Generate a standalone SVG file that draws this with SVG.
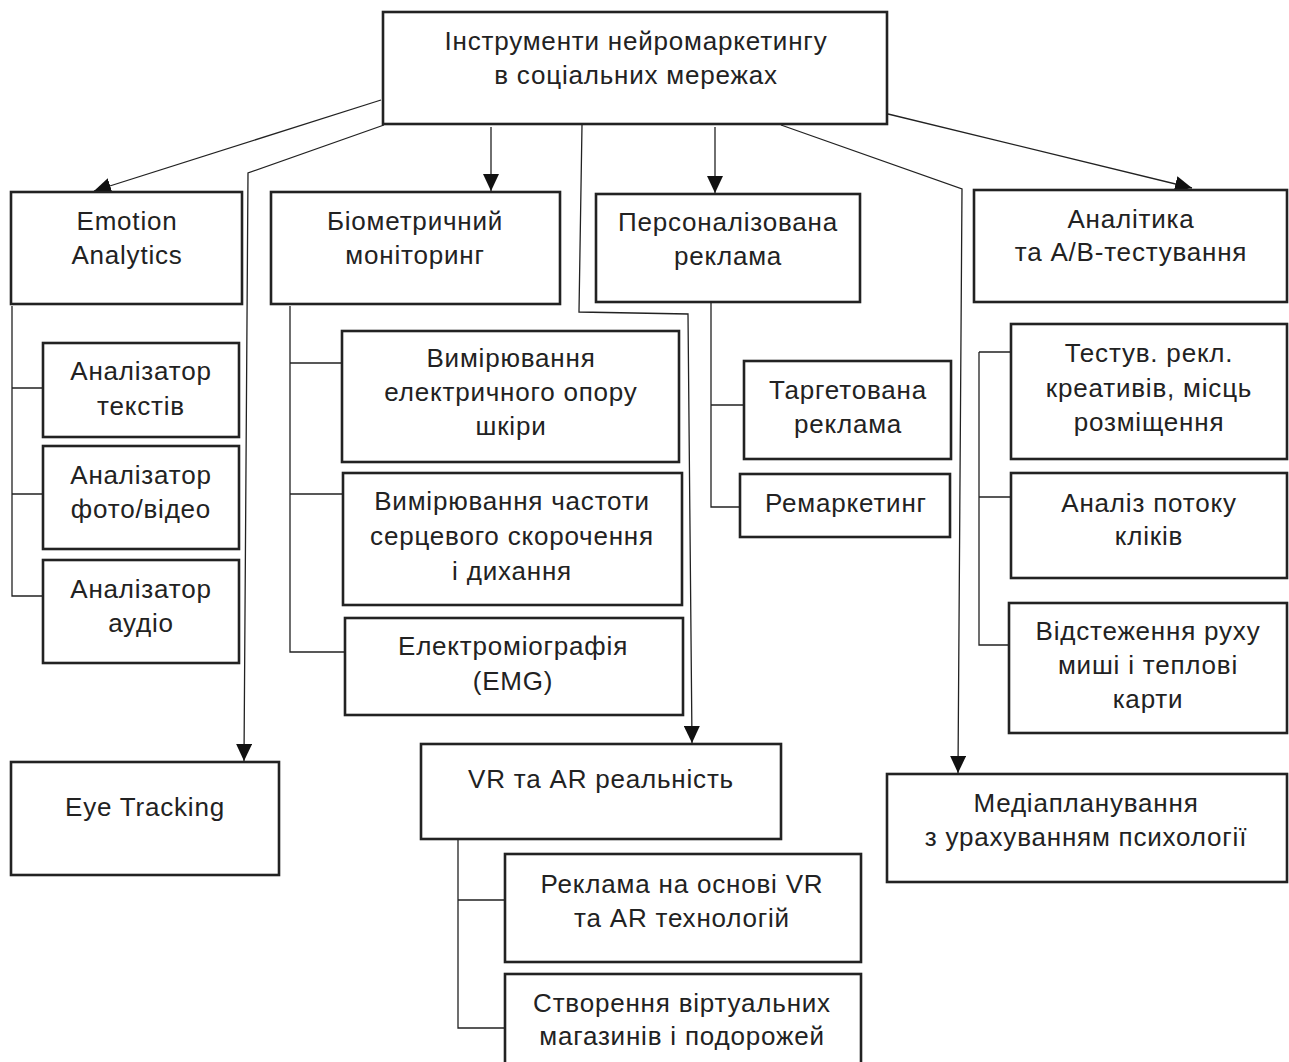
<svg xmlns="http://www.w3.org/2000/svg" width="1289" height="1062" viewBox="0 0 1289 1062">
<style>
.box{fill:#fff;stroke:#222;stroke-width:2.6}
.t{font-family:"Liberation Sans",Arial,sans-serif;font-size:26px;letter-spacing:0.8px;fill:#222;text-anchor:middle}
.c{fill:none;stroke:#222;stroke-width:1.3}
.a{fill:none;stroke:#222;stroke-width:1.3;marker-end:url(#arr)}
</style>
<defs>
<marker id="arr" viewBox="0 0 17 16" refX="17" refY="8" markerWidth="17" markerHeight="16" markerUnits="userSpaceOnUse" orient="auto">
<path d="M0,0 L17,8 L0,16 z" fill="#111"/>
</marker>
</defs>
<rect width="1289" height="1062" fill="#fff"/>
<g id="connectors">
<path class="a" d="M381,100 L94,191"/>
<path class="a" d="M384,125 L248,173 L244,761"/>
<path class="a" d="M491,127 L491,191"/>
<path class="a" d="M582,125 L579,312 L688,314 L692,743"/>
<path class="a" d="M715,127 L715,193"/>
<path class="a" d="M781,125 L962,189 L958,773"/>
<path class="a" d="M888,114 L1192,188"/>
<path class="c" d="M12,306 L12,596 L43,596 M12,388 L43,388 M12,494 L43,494"/>
<path class="c" d="M290,306 L290,652 L345,652 M290,363 L342,363 M290,494 L343,494"/>
<path class="c" d="M711,302 L711,507 L740,507 M711,405 L744,405"/>
<path class="c" d="M979,352 L1010,352 M979,352 L979,645 L1008,645 M979,497 L1011,497"/>
<path class="c" d="M458,839 L458,1028 L504,1028 M458,900 L504,900"/>
</g>
<g id="root">
<rect class="box" x="383" y="12" width="504" height="112"/>
<text class="t"><tspan x="636" y="50">Інструменти нейромаркетингу</tspan><tspan x="636" y="84">в соціальних мережах</tspan></text>
</g>
<g id="emotion">
<rect class="box" x="11" y="192" width="231" height="112"/>
<text class="t"><tspan x="127" y="230">Emotion</tspan><tspan x="127" y="264">Analytics</tspan></text>
</g>
<g id="biometric">
<rect class="box" x="271" y="192" width="289" height="112"/>
<text class="t"><tspan x="415" y="230">Біометричний</tspan><tspan x="415" y="264">моніторинг</tspan></text>
</g>
<g id="personal">
<rect class="box" x="596" y="194" width="264" height="108"/>
<text class="t"><tspan x="728" y="231">Персоналізована</tspan><tspan x="728" y="265">реклама</tspan></text>
</g>
<g id="analytics">
<rect class="box" x="974" y="190" width="313" height="112"/>
<text class="t"><tspan x="1131" y="228">Аналітика</tspan><tspan x="1131" y="261">та A/B-тестування</tspan></text>
</g>
<g id="an-text">
<rect class="box" x="43" y="343" width="196" height="94"/>
<text class="t"><tspan x="141" y="380">Аналізатор</tspan><tspan x="141" y="415">текстів</tspan></text>
</g>
<g id="an-photo">
<rect class="box" x="43" y="446" width="196" height="103"/>
<text class="t"><tspan x="141" y="484">Аналізатор</tspan><tspan x="141" y="518">фото/відео</tspan></text>
</g>
<g id="an-audio">
<rect class="box" x="43" y="560" width="196" height="103"/>
<text class="t"><tspan x="141" y="598">Аналізатор</tspan><tspan x="141" y="632">аудіо</tspan></text>
</g>
<g id="skin">
<rect class="box" x="342" y="331" width="337" height="131"/>
<text class="t"><tspan x="511" y="367">Вимірювання</tspan><tspan x="511" y="401">електричного опору</tspan><tspan x="511" y="435">шкіри</tspan></text>
</g>
<g id="heart">
<rect class="box" x="343" y="473" width="339" height="132"/>
<text class="t"><tspan x="512" y="510">Вимірювання частоти</tspan><tspan x="512" y="545">серцевого скорочення</tspan><tspan x="512" y="580">і дихання</tspan></text>
</g>
<g id="emg">
<rect class="box" x="345" y="618" width="338" height="97"/>
<text class="t"><tspan x="513" y="655">Електроміографія</tspan><tspan x="513" y="690">(EMG)</tspan></text>
</g>
<g id="target">
<rect class="box" x="744" y="361" width="207" height="98"/>
<text class="t"><tspan x="848" y="399">Таргетована</tspan><tspan x="848" y="433">реклама</tspan></text>
</g>
<g id="remarketing">
<rect class="box" x="740" y="474" width="210" height="63"/>
<text class="t" x="846" y="512">Ремаркетинг</text>
</g>
<g id="ab-test">
<rect class="box" x="1011" y="324" width="276" height="135"/>
<text class="t"><tspan x="1149" y="362">Тестув. рекл.</tspan><tspan x="1149" y="397">креативів, місць</tspan><tspan x="1149" y="431">розміщення</tspan></text>
</g>
<g id="clicks">
<rect class="box" x="1011" y="473" width="276" height="105"/>
<text class="t"><tspan x="1149" y="512">Аналіз потоку</tspan><tspan x="1149" y="545">кліків</tspan></text>
</g>
<g id="mouse">
<rect class="box" x="1009" y="603" width="278" height="130"/>
<text class="t"><tspan x="1148" y="640">Відстеження руху</tspan><tspan x="1148" y="674">миші і теплові</tspan><tspan x="1148" y="708">карти</tspan></text>
</g>
<g id="eye">
<rect class="box" x="11" y="762" width="268" height="113"/>
<text class="t" x="145" y="816">Eye Tracking</text>
</g>
<g id="vr">
<rect class="box" x="421" y="744" width="360" height="95"/>
<text class="t" x="601" y="788">VR та AR реальність</text>
</g>
<g id="media">
<rect class="box" x="887" y="774" width="400" height="108"/>
<text class="t"><tspan x="1086" y="812">Медіапланування</tspan><tspan x="1086" y="846">з урахуванням психології</tspan></text>
</g>
<g id="vr-ads">
<rect class="box" x="505" y="854" width="356" height="108"/>
<text class="t"><tspan x="682" y="893">Реклама на основі VR</tspan><tspan x="682" y="927">та AR технологій</tspan></text>
</g>
<g id="vr-stores">
<rect class="box" x="505" y="974" width="356" height="100"/>
<text class="t"><tspan x="682" y="1012">Створення віртуальних</tspan><tspan x="682" y="1045">магазинів і подорожей</tspan></text>
</g>
</svg>
